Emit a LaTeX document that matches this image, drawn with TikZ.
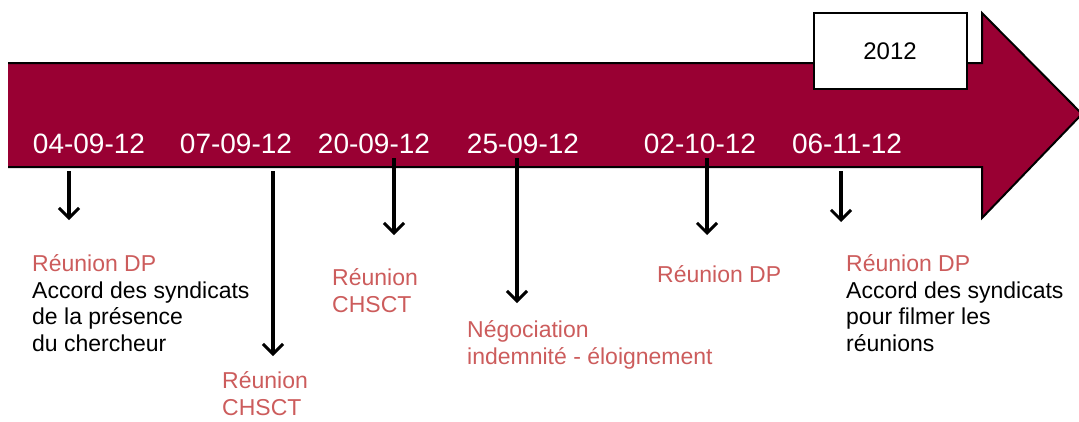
\documentclass[tikz,border=0pt]{standalone}
\usepackage{fontspec}
\setmainfont{Liberation Sans}
\usetikzlibrary{arrows.meta}
\definecolor{band}{rgb}{0.6, 0.0, 0.2}
\definecolor{rouge}{rgb}{0.80, 0.36, 0.36}
\tikzstyle{date} = [text=white,anchor=base,inner sep=0pt,font=\fontsize{28}{30}\selectfont]
\tikzstyle{event} = [anchor=base west,align=left,inner sep=0pt,font=\fontsize{23}{26.5}\selectfont]
\tikzstyle{fleche} = [-{Straight Barb[length=10pt,width=20pt,line width=3pt]},line width=3.2pt]

\begin{document}
\begin{tikzpicture}[x=1pt,y=-1pt]
	\useasboundingbox (0,0) rectangle (1079,421);

	% the band
	\fill[band] (8,63) -- (982,63) -- (982,13) -- (1082,114) -- (982,218) -- (982,167) -- (8,167) -- cycle;
	\draw[line width=2pt] (8,63) -- (982,63) -- (982,13) -- (1082,114) -- (982,218) -- (982,167) -- (8,167);

	\node[draw,fill=white,line width=2pt,minimum width=153pt,minimum height=76pt,font=\fontsize{24}{26}\selectfont](year) at (890,51) {2012};

	\node[date](d1) at (89,153) {04-09-12};
	\node[date](d2) at (236,153) {07-09-12};
	\node[date](d3) at (374,153) {20-09-12};
	\node[date](d4) at (523,153) {25-09-12};
	\node[date](d5) at (700,153) {02-10-12};
	\node[date](d6) at (847,153) {06-11-12};

	\coordinate (s1) at (69,171);  \coordinate (e1) at (69,220);
	\coordinate (s2) at (273,171); \coordinate (e2) at (273,356);
	\coordinate (s3) at (394,158); \coordinate (e3) at (394,235);
	\coordinate (s4) at (517,158); \coordinate (e4) at (517,303);
	\coordinate (s5) at (707,158); \coordinate (e5) at (707,235);
	\coordinate (s6) at (841,171); \coordinate (e6) at (841,222);

	\foreach \i in {1,...,6}
		\draw[fleche] (s\i) -- (e\i);

	% base = last line
	\node[event](ev1) at (32,351) {{\color{rouge}Réunion DP}\\Accord des syndicats\\de la présence\\du chercheur};
	\node[event,text=rouge](ev2) at (222,415) {Réunion\\CHSCT};
	\node[event,text=rouge](ev3) at (332,312) {Réunion\\CHSCT};
	\node[event,text=rouge](ev4) at (467,364) {Négociation\\indemnité - éloignement};
	\node[event,text=rouge](ev5) at (657,282) {Réunion DP};
	\node[event](ev6) at (846,351) {{\color{rouge}Réunion DP}\\Accord des syndicats\\pour filmer les\\réunions};

\end{tikzpicture}
\end{document}
